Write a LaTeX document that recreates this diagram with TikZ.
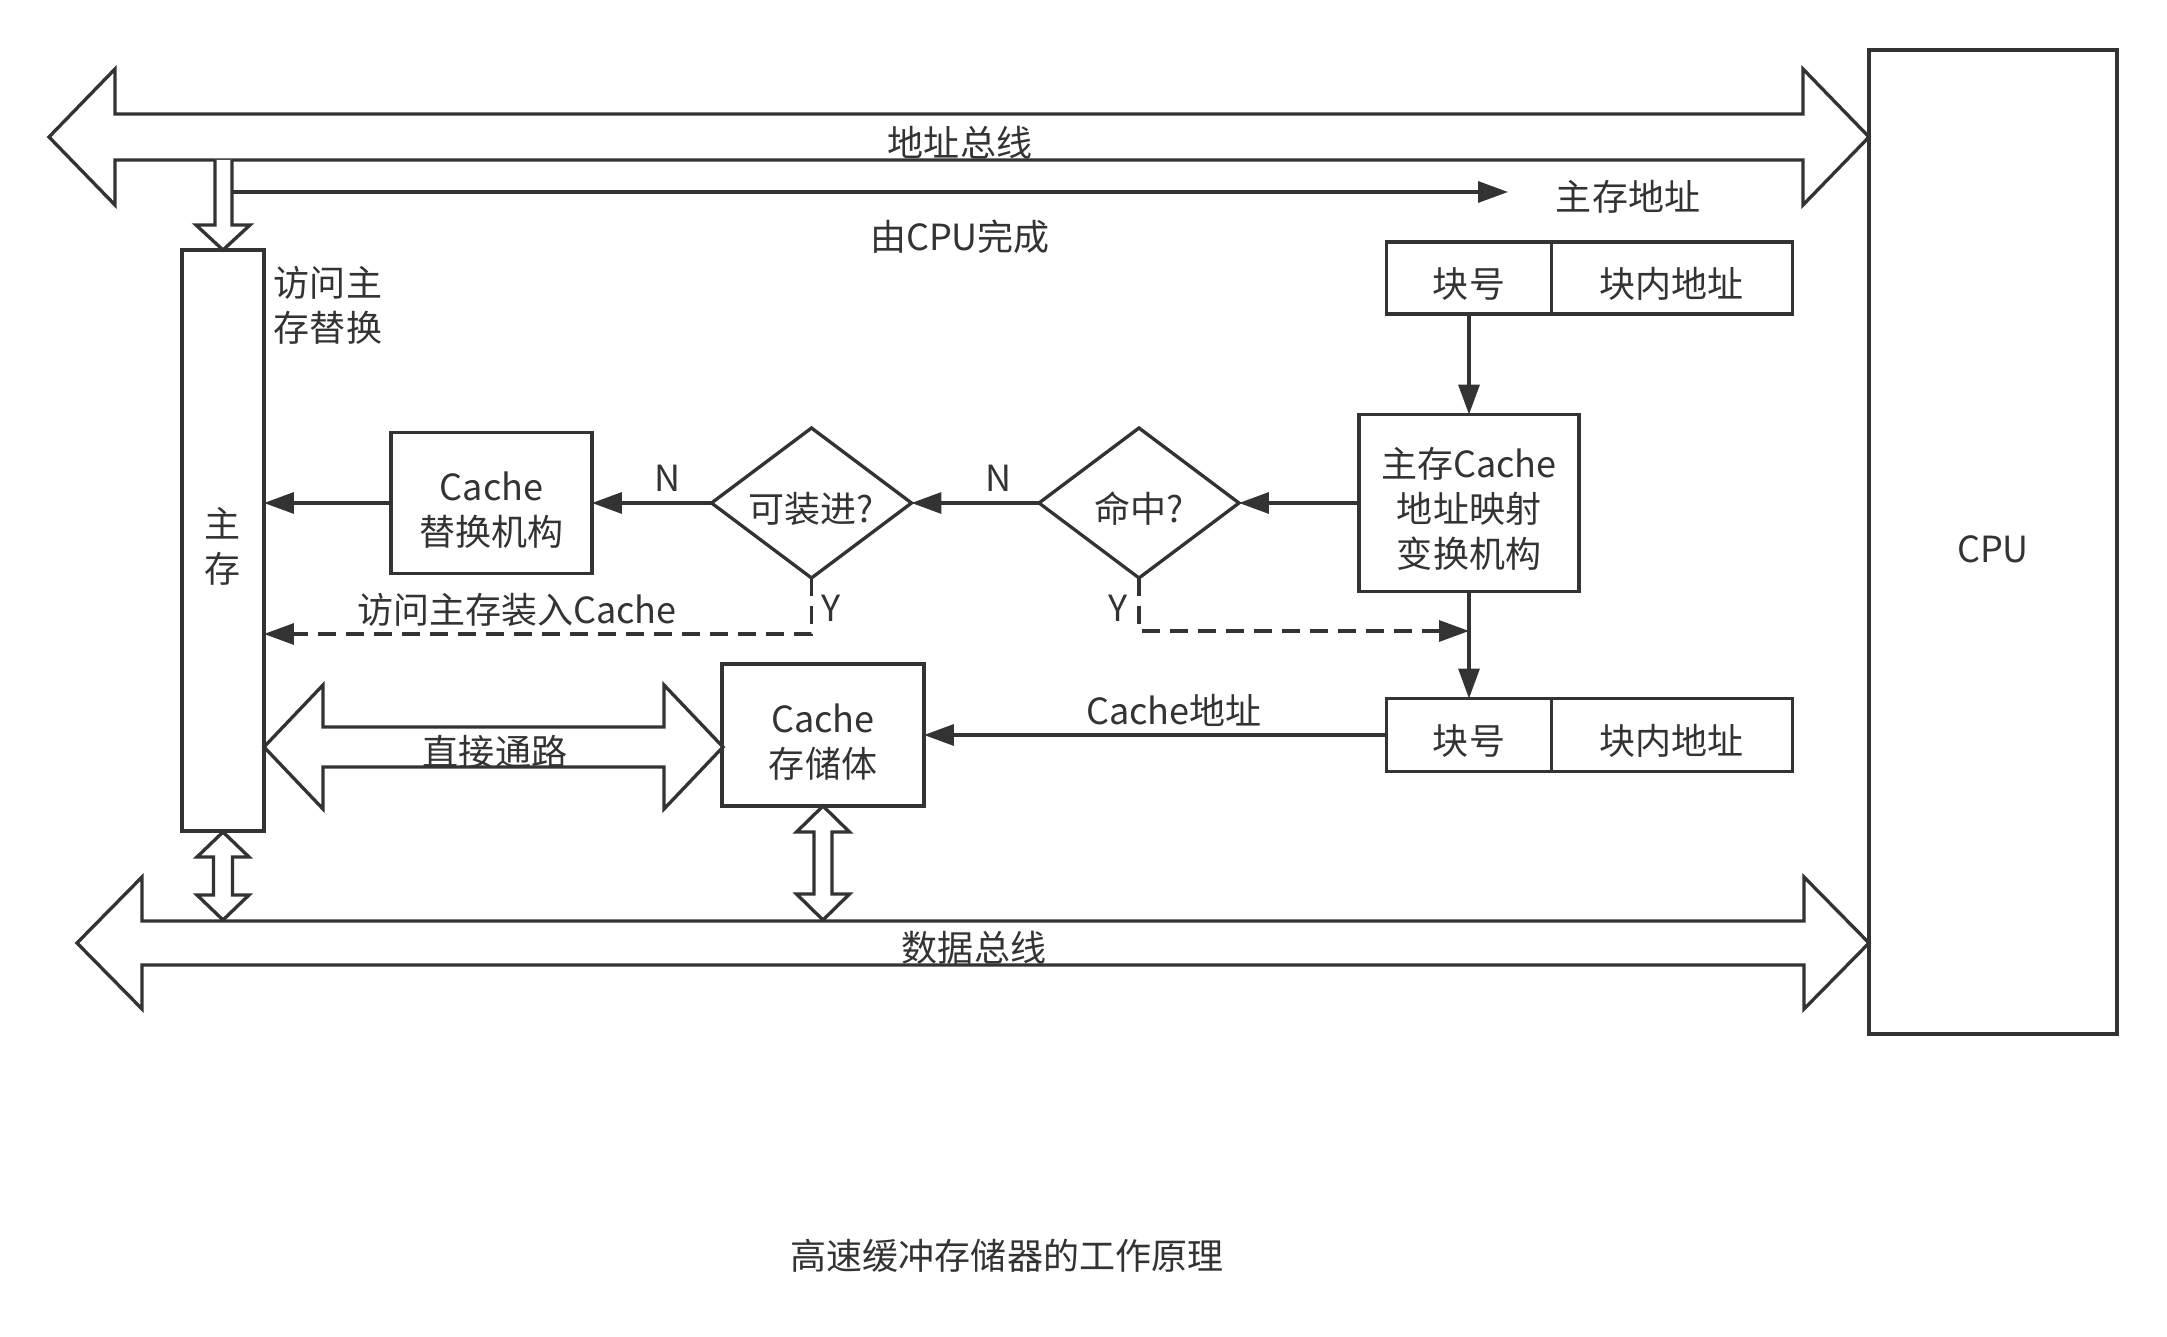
\documentclass[tikz,border=0pt]{standalone}
\usepackage{fontspec}
\setmainfont{Noto Sans CJK SC}
\usepackage{tikz}
\usetikzlibrary{shapes,arrows.meta,positioning}
\definecolor{dgray}{HTML}{333333}
\newcommand{\diagfont}{\fontsize{20.5pt}{25.6pt}\selectfont}
\newcommand{\lowstrut}{\rule{0pt}{1.17em}}
\tikzstyle{box} = [rectangle, draw=dgray, line width=1.9pt, align=center,
    inner sep=0pt, outer sep=0pt, execute at begin node=\lowstrut]
\tikzstyle{decision} = [diamond, draw=dgray, line width=1.9pt, aspect=1.34,
    inner sep=1pt, outer sep=0pt, minimum width=4cm, minimum height=3cm,
    execute at begin node=\lowstrut]
\tikzstyle{arrow} = [line width=1.9pt, draw=dgray, -{Triangle[length=0.6cm,width=0.42cm]}]
\tikzstyle{dasharrow} = [arrow, dash pattern=on 0.36cm off 0.2cm]
\tikzstyle{bus} = [draw=dgray, fill=white, line width=1.9pt]
% fat double arrows: tip, tip, axis, shaft half, head half, head length
\newcommand{\hbus}[6]{\draw[bus] (#1,#3) -- (#1+#6,#3-#5) -- (#1+#6,#3-#4) -- (#2-#6,#3-#4)
    -- (#2-#6,#3-#5) -- (#2,#3) -- (#2-#6,#3+#5) -- (#2-#6,#3+#4) -- (#1+#6,#3+#4)
    -- (#1+#6,#3+#5) -- cycle;}
\newcommand{\vbus}[6]{\draw[bus] (#3,#1) -- (#3+#5,#1+#6) -- (#3+#4,#1+#6) -- (#3+#4,#2-#6)
    -- (#3+#5,#2-#6) -- (#3,#2) -- (#3-#5,#2-#6) -- (#3-#4,#2-#6) -- (#3-#4,#1+#6)
    -- (#3-#5,#1+#6) -- cycle;}

\begin{document}
\begin{tikzpicture}[x=0.02cm, y=-0.02cm, font=\diagfont, every node/.style={text=dgray}]
\useasboundingbox (0,0) rectangle (2167,1337);

% buses
\hbus{49}{1869}{137}{23}{68}{66}
\hbus{77}{1869}{943}{22}{66}{65}
\draw[bus] (215,160) -- (215,225) -- (196,225) -- (223,250) -- (250,225) -- (232,225) -- (232,160);
\node (abus) at (960,143) {地址总线};
\node (dbus) at (974,948) {数据总线};

\node[box, minimum width=4.96cm, minimum height=19.68cm] (cpu) at (1993,542) {CPU};
\node[box, minimum width=1.64cm, minimum height=11.62cm] (mem) at (223,540.5) {\lowstrut 主\\存};
\node[align=left] (swap) at (328,305) {访问主\\存替换};

% address to CPU side
\coordinate (asrc) at (232,192);
\coordinate (aend) at (1508,192);
\draw[arrow] (asrc) -- (aend);
\node (maddr) at (1628,197) {主存地址};
\node (bycpu) at (960,237) {由CPU完成};

\node[box, minimum width=3.3cm, minimum height=1.44cm] (regtop1) at (1469,278) {块号};
\node[box, minimum width=4.82cm, minimum height=1.44cm, right=0pt of regtop1] (regtop2) {块内地址};
\node[box, minimum width=4.4cm, minimum height=3.54cm] (map) at (1469,503) {\lowstrut 主存Cache\\地址映射\\变换机构};
\node[decision] (hit) at (1139,503) {命中?};
\node[decision] (load) at (811.5,503) {可装进?};
\node[box, minimum width=4.02cm, minimum height=2.82cm] (rep) at (491.5,503) {\lowstrut Cache\\替换机构};
\node[box, minimum width=3.3cm, minimum height=1.46cm] (regbot1) at (1469,735) {块号};
\node[box, minimum width=4.82cm, minimum height=1.46cm, right=0pt of regbot1] (regbot2) {块内地址};
\node[box, minimum width=4.04cm, minimum height=2.84cm] (store) at (823,735) {\lowstrut Cache\\存储体};

\draw[arrow] (regtop1.south) -- (regtop1.south |- map.north);
\draw[arrow] (map.west) -- (hit.east);
\draw[arrow] (hit.west) -- (load.east);
\draw[arrow] (load.west) -- (rep.east);
\draw[arrow] (rep.west) -- (rep.west -| mem.east);
\node (nhit) at (999,478) {N};
\node (nload) at (668,478) {N};

\coordinate (ldash) at (0,634);
\coordinate (hdash) at (0,631);
\draw[dasharrow] (load.south) |- (mem.east |- ldash);
\draw[dasharrow] (hit.south) |- (map.south |- hdash);
\node (yload) at (831,608) {Y};
\node (yhit) at (1118,608) {Y};
\node (fill) at (517,610) {访问主存装入Cache};

\draw[arrow] (map.south) -- (map.south |- regbot1.north);
\draw[arrow] (regbot1.west) -- (regbot1.west -| store.east);
\node (caddr) at (1174,710) {Cache地址};

% data paths
\hbus{264}{723}{747}{20}{62}{59}
\node (direct) at (495,752) {直接通路};
\vbus{832}{920}{223}{9.5}{26}{25}
\vbus{806}{920}{823}{9}{26.5}{26}

\node (title) at (1007,1256) {高速缓冲存储器的工作原理};
\end{tikzpicture}
\end{document}
